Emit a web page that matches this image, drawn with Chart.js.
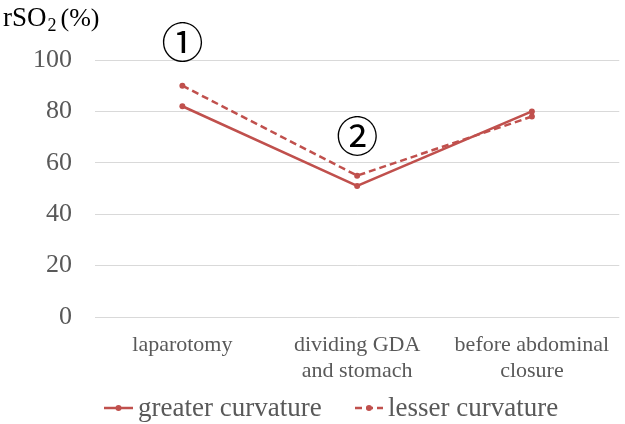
<!DOCTYPE html>
<html>
<head>
<meta charset="utf-8">
<script src="https://cdn.jsdelivr.net/npm/chart.js@4.4.0/dist/chart.umd.min.js"></script>
<style>
html,body{margin:0;padding:0;background:#fff;}
#wrap{width:625px;height:424px;}
</style>
</head>
<body>
<div id="wrap"><canvas id="c" width="625" height="424"></canvas></div>
<script>
const categories = [["laparotomy"], ["dividing GDA", "and stomach"], ["before abdominal", "closure"]];
const greaterCurvature = [82, 51, 80];
const lesserCurvature = [90, 55, 78];
const seriesLabels = ["greater curvature", "lesser curvature"];
const yTicks = [0, 20, 40, 60, 80, 100];
const annotations = [{text: "\u2460", x: 0, y: 107}, {text: "\u2461", x: 1, y: 70.5}];

const RED = '#C0504D';
const SERIF = "'Liberation Serif', serif";
const CIRC = "'Noto Sans CJK JP', 'DejaVu Sans', sans-serif";

const titlePlugin = {
  id: 'titleAndNotes',
  afterDraw(chart) {
    const ctx = chart.ctx;
    ctx.save();
    ctx.fillStyle = '#000';
    ctx.textBaseline = 'alphabetic';
    ctx.textAlign = 'left';
    ctx.font = '27px ' + SERIF;
    ctx.fillText('rSO', 3, 26);
    let w = ctx.measureText('rSO').width;
    ctx.font = '18px ' + SERIF;
    ctx.fillText('2', 3 + w + 1, 31);
    const w2 = ctx.measureText('2').width;
    ctx.font = '26px ' + SERIF;
    ctx.fillText('(%)', 3 + w + 1 + w2 + 4, 26);

    // legend
    const items = chart.data.datasets;
    const pos = [{x0: 104, x1: 133, tx: 138}, {x0: 355, x1: 383, tx: 388}];
    const ly = 408;
    items.forEach((ds, i) => {
      const p = pos[i];
      ctx.strokeStyle = ds.borderColor;
      ctx.lineWidth = 2.5;
      ctx.setLineDash(ds.borderDash || []);
      ctx.beginPath();
      ctx.moveTo(p.x0, ly);
      ctx.lineTo(p.x1, ly);
      ctx.stroke();
      ctx.setLineDash([]);
      ctx.fillStyle = ds.borderColor;
      ctx.beginPath();
      ctx.arc((p.x0 + p.x1) / 2, ly, 3, 0, Math.PI * 2);
      ctx.fill();
      ctx.fillStyle = '#595959';
      ctx.font = '27px ' + SERIF;
      ctx.textAlign = 'left';
      ctx.textBaseline = 'middle';
      ctx.fillText(ds.label, p.tx, ly + 1);
    });

    // circled annotations
    const xs = chart.scales.x, ys = chart.scales.y;
    ctx.fillStyle = '#000';
    ctx.font = '42px ' + CIRC;
    ctx.textAlign = 'center';
    ctx.textBaseline = 'middle';
    annotations.forEach(a => {
      ctx.fillText(a.text, xs.getPixelForValue(a.x), ys.getPixelForValue(a.y));
    });
    ctx.restore();
  }
};

function build() {
  new Chart(document.getElementById('c'), {
    type: 'line',
    data: {
      labels: categories,
      datasets: [
        {label: seriesLabels[0], data: greaterCurvature, borderColor: RED, backgroundColor: RED,
         borderWidth: 2.5, pointRadius: 3, pointBackgroundColor: RED, pointBorderWidth: 0, tension: 0},
        {label: seriesLabels[1], data: lesserCurvature, borderColor: RED, backgroundColor: RED,
         borderWidth: 2.5, borderDash: [7, 4], pointRadius: 3, pointBackgroundColor: RED, pointBorderWidth: 0, tension: 0}
      ]
    },
    options: {
      responsive: false,
      animation: false,
      devicePixelRatio: 1,
      layout: {padding: {top: 60, right: 5, bottom: 0, left: 0}},
      plugins: {legend: {display: false}, tooltip: {enabled: false}, title: {display: false}},
      scales: {
        x: {
          offset: true,
          grid: {display: false, drawTicks: false},
          border: {display: false},
          ticks: {color: '#595959', font: {family: SERIF, size: 22, lineHeight: 1.18}, padding: 15,
                  maxRotation: 0, autoSkip: false},
          afterFit(s) { s.height = 107; }
        },
        y: {
          min: 0, max: 100,
          afterBuildTicks(s) { s.ticks = yTicks.map(v => ({value: v})); },
          grid: {color: '#d9d9d9', lineWidth: 1, drawTicks: false},
          border: {display: false},
          ticks: {color: '#595959', font: {family: SERIF, size: 26}, padding: 23},
          afterFit(s) { s.width = 95; }
        }
      }
    },
    plugins: [titlePlugin]
  });
}

Promise.all([
  document.fonts.load("27px 'Liberation Serif'"),
  document.fonts.load("42px 'Noto Sans CJK JP'", "\u2460\u2461")
]).catch(() => {}).then(build);
</script>
</body>
</html>
